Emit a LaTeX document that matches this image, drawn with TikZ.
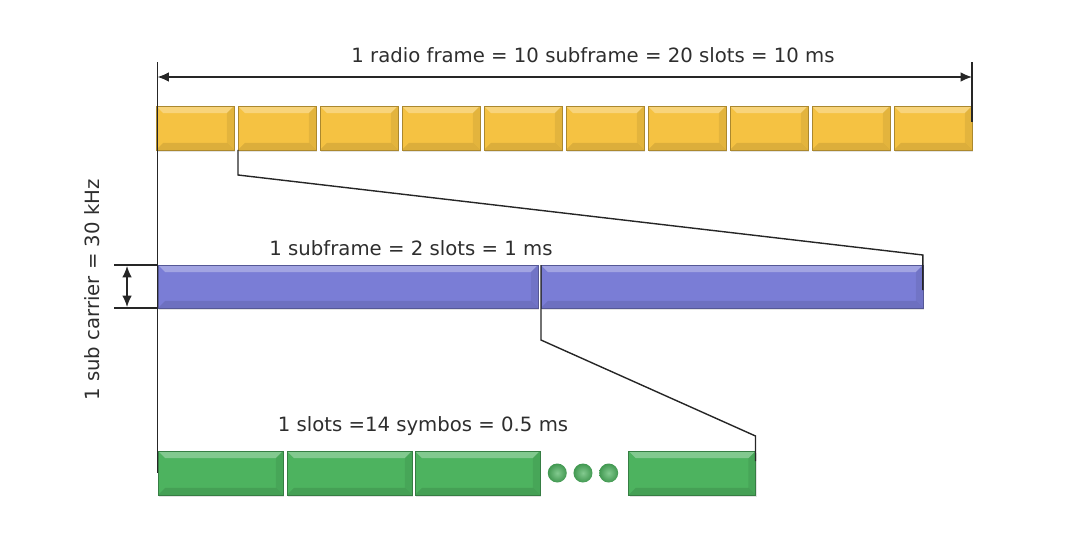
\documentclass[tikz,border=0pt]{standalone}
\usepackage{fontspec}
\setmainfont{DejaVu Sans}
\usepackage{tikz}
\usetikzlibrary{positioning,calc,shadows,arrows,arrows.meta}

\definecolor{slotyellow}{HTML}{F5C242}
\definecolor{slotpurple}{HTML}{7A7DD6}
\definecolor{slotgreen}{HTML}{4DB35F}
\definecolor{labelgrey}{HTML}{2E2E2E}

\tikzset{
	bevelbox/.style={rectangle, inner sep=0pt, outer sep=0pt, fill=#1, draw=#1!70!black, line width=0.3pt,
		drop shadow={opacity=0.22, shadow xshift=0.8pt, shadow yshift=-1pt},
		path picture={
			\fill[white, opacity=0.3] (path picture bounding box.north west) -- (path picture bounding box.north east) -- ([shift={(-4pt,-4pt)}]path picture bounding box.north east) -- ([shift={(4pt,-4pt)}]path picture bounding box.north west) -- cycle;
			\fill[black, opacity=0.1] (path picture bounding box.south west) -- (path picture bounding box.south east) -- ([shift={(-4pt,4pt)}]path picture bounding box.south east) -- ([shift={(4pt,4pt)}]path picture bounding box.south west) -- cycle;
			\fill[black, opacity=0.07] (path picture bounding box.north east) -- (path picture bounding box.south east) -- ([shift={(-4pt,4pt)}]path picture bounding box.south east) -- ([shift={(-4pt,-4pt)}]path picture bounding box.north east) -- cycle;
		}},
	subframe/.style={bevelbox=slotyellow, minimum width=1.56cm, minimum height=0.88cm},
	halfslot/.style={bevelbox=slotpurple, minimum height=0.86cm},
	symbol/.style={bevelbox=slotgreen, minimum width=2.5cm, minimum height=0.88cm},
	dot/.style={circle, inner sep=0pt, minimum size=0.38cm, inner color=slotgreen!70!white, outer color=slotgreen!85!black},
	caption/.style={text=labelgrey, font=\fontsize{11.2}{13}\selectfont},
	guide/.style={line width=0.8pt, draw=black!85},
	span/.style={guide, {Latex[length=6.5pt,width=5.5pt]}-{Latex[length=6.5pt,width=5.5pt]}},
}

\begin{document}
\begin{tikzpicture}[x=0.02cm, y=-0.02cm]
	\useasboundingbox (0,0) rectangle (1080,541);
	
	% radio frame
	\node[subframe] (y1) at (195,128) {};
	\node[subframe, right=0.08cm of y1] (y2) {};
	\node[subframe, right=0.08cm of y2] (y3) {};
	\node[subframe, right=0.08cm of y3] (y4) {};
	\node[subframe, right=0.08cm of y4] (y5) {};
	\node[subframe, right=0.08cm of y5] (y6) {};
	\node[subframe, right=0.08cm of y6] (y7) {};
	\node[subframe, right=0.08cm of y7] (y8) {};
	\node[subframe, right=0.08cm of y8] (y9) {};
	\node[subframe, right=0.08cm of y9] (y10) {};
	
	\coordinate (ltop) at (157.5,62);
	\coordinate (rtop) at (972,62);
	\node[caption] (frametxt) at (593,55) {1 radio frame = 10 subframe = 20 slots = 10 ms};
	
	% one subframe
	\node[halfslot, minimum width=7.6cm] (p1) at (348,286.5) {};
	\node[halfslot, minimum width=7.64cm, right=0.06cm of p1] (p2) {};
	\node[caption] (subtxt) at (411,248) {1 subframe = 2 slots = 1 ms};
	
	% one slot
	\node[symbol] (g1) at (220.5,473) {};
	\node[symbol, right=0.08cm of g1] (g2) {};
	\node[symbol, right=0.06cm of g2] (g3) {};
	\node[dot, right=0.15cm of g3] (d1) {};
	\node[dot, right=0.12cm of d1] (d2) {};
	\node[dot, right=0.12cm of d2] (d3) {};
	\node[symbol, minimum width=2.54cm, right=0.2cm of d3] (g4) {};
	\node[caption] (slottxt) at (423,426) {1 slots =14 symbos = 0.5 ms};
	
	% sub carrier
	\node[caption, rotate=90] (sctxt) at (92,290) {1 sub carrier = 30 kHz};
	
	% guides
	\draw[guide] (ltop) -- (ltop |- g1.west);
	\draw[guide] (rtop) -- ++(0,60);
	\draw[span] ($(ltop)+(0,15)$) -- ($(rtop)+(0,15)$);
	
	\draw[guide] (y2.south west) -- ++(0,25) -- ($(p2.north east)+(0,-10)$) -- ($(p2.north east)+(0,25)$);
	\draw[guide] (p2.north west) -- ++(0,75) -- ($(g4.north east)+(0,-15)$) -- ($(g4.north east)+(0,10)$);
	
	\draw[guide] (p1.north west) -- ++(-44,0);
	\draw[guide] (p1.south west) -- ++(-44,0);
	\draw[span] ($(p1.north west)+(-31,1)$) -- ($(p1.south west)+(-31,-1)$);
\end{tikzpicture}
\end{document}
